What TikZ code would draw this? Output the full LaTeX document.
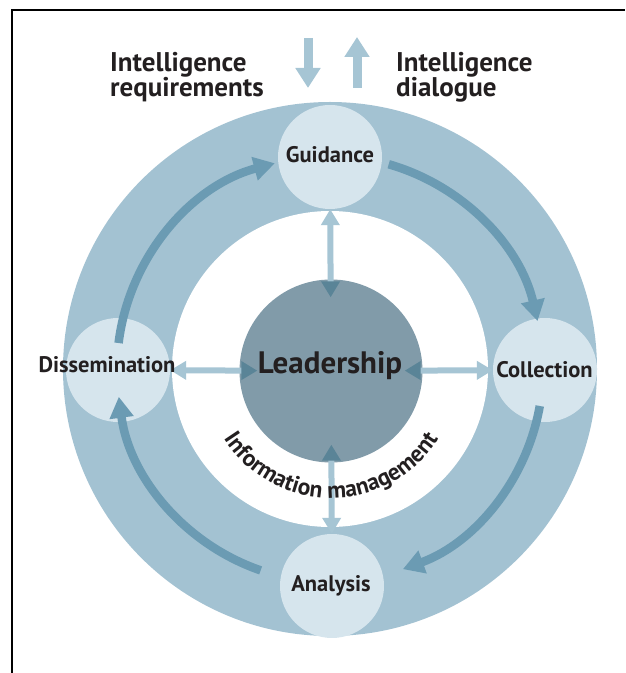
\documentclass[tikz,border=0pt]{standalone}
\usepackage{fontspec}
\setmainfont{PT Sans}
\usetikzlibrary{arrows.meta,calc,decorations.text}
\definecolor{ringc}{HTML}{A3C2D2}
\definecolor{nodec}{HTML}{D6E5ED}
\definecolor{leadc}{HTML}{819BA9}
\definecolor{cycc}{HTML}{6B9BB3}
\definecolor{spokec}{HTML}{A6C5D4}
\definecolor{tipc}{HTML}{5A8497}
\definecolor{txtc}{HTML}{231F20}
\newcommand\imfont{\bfseries\fontsize{23.5}{23.5}\selectfont}
\begin{document}
\begin{tikzpicture}[x=1pt,y=1pt,
  phase/.style={circle, fill=nodec, minimum size=104pt, inner sep=0pt},
  lab/.style={text=txtc, font=\bfseries\fontsize{22.5}{22.5}\selectfont, inner sep=0pt, anchor=base},
  toplab/.style={text=txtc, font=\bfseries\fontsize{27}{25}\selectfont, inner sep=0pt, anchor=base west, align=left},
  spoke/.style={draw=spokec, line width=6pt, {Triangle[length=16pt,width=18pt,color=tipc]}-{Triangle[length=16pt,width=18pt]}, shorten <=-18pt},
  cyc/.style={draw=cycc, line width=8.5pt, -{Triangle[length=21pt,width=23pt]}},
  toparr/.style={draw=spokec, line width=9pt, -{Triangle[length=20pt,width=24pt]}}
  ]
\useasboundingbox (0,0) rectangle (625,673);
% frame
\draw[line width=2pt] (12,0) -- (12,663) -- (625,663);
% ring
\coordinate (C) at (330,304);
\fill[ringc] (C) circle[radius=267];
\fill[white] (C) circle[radius=158];
% centre
\node[circle, fill=leadc, minimum size=183pt, inner sep=0pt] (lead) at (331,302) {};
% phases
\node[phase] (guid) at (330,516) {};
\node[phase] (coll) at (545,303) {};
\node[phase] (diss) at (118,303) {};
\node[phase] (anal) at (332,87) {};
% spokes
\draw[spoke] (lead) -- (guid);
\draw[spoke] (lead) -- (coll);
\draw[spoke] (lead) -- (diss);
\draw[spoke] (lead) -- (anal);
% cycle arrows
\draw[cyc] ($(C)+(173:213)$) arc[start angle=173, end angle=105, radius=213];
\draw[cyc] ($(C)+(74:213)$) arc[start angle=74, end angle=13, radius=213];
\draw[cyc] ($(C)+(-10:213)$) arc[start angle=-10, end angle=-70, radius=213];
\draw[cyc] ($(C)+(-109:213)$) arc[start angle=-109, end angle=-172.5, radius=213];
% top arrows
\coordinate (rqa) at (308,635);
\coordinate (rqb) at (308,585);
\coordinate (dla) at (357,585);
\coordinate (dlb) at (357,636);
\draw[toparr] (rqa) -- (rqb);
\draw[toparr] (dla) -- (dlb);
% labels
\node[lab] (tguid) at (330,510) {Guidance};
\node[lab] (tcoll) at (544.5,295) {Collection};
\node[lab] (tdiss) at (107,300) {Dissemination};
\node[lab] (tanal) at (331,81) {Analysis};
\node[lab, font=\bfseries\fontsize{31}{31}\selectfont] (tlead) at (330,299) {Leadership};
\node[toplab] (treq) at (110,576) {Intelligence\\requirements};
\node[toplab] (tdia) at (396,576) {Intelligence\\dialogue};
% curved text
\path[decorate, decoration={text along path, text={|\imfont\color{txtc}|Information management}, text align=center}]
  ($(lead)+(190:127)$) arc[start angle=190, end angle=350, radius=127];
\end{tikzpicture}
\end{document}
